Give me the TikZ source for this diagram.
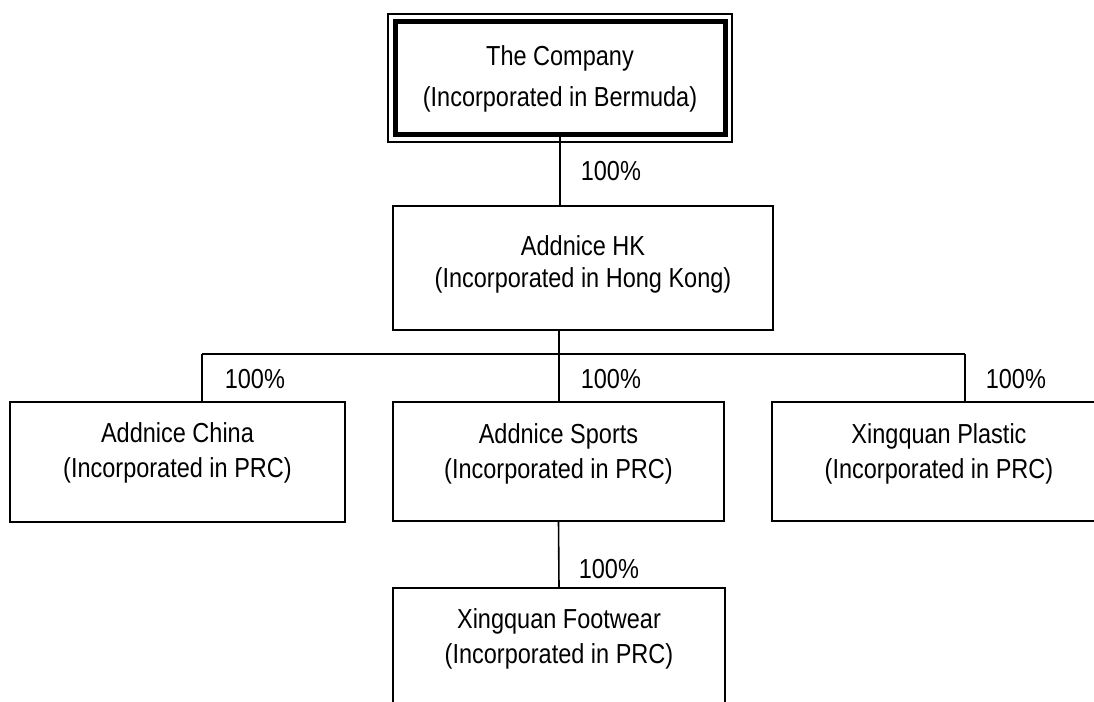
\documentclass[tikz,border=0pt]{standalone}
\usepackage{fontspec}
\usepackage{graphicx}
\setmainfont{Liberation Sans}
\usetikzlibrary{positioning}
\newcommand{\tallline}[1]{\scalebox{1}[1.17]{#1}}

\begin{document}
\begin{tikzpicture}[x=1pt, y=-1pt, line width=1.6pt,
  entity/.style={draw, minimum width=332pt, minimum height=120pt, inner sep=0pt, outer sep=0pt},
  caption/.style={align=center, inner sep=0pt, font=\fontsize{23.5}{35}\selectfont},
  pct/.style={anchor=base west, inner sep=0pt, font=\fontsize{23.5}{28}\selectfont}]
  \clip (0,0) rectangle (1094,701);
  \path (560,78) node[entity, line width=5pt, minimum width=330pt, minimum height=112pt] (company){}
    (583,268) node[entity, minimum width=380pt, minimum height=124pt] (hk){}
    (177.5,462) node[entity, minimum width=335pt] (china){}
    (558.5,461.5) node[entity, minimum width=331pt, minimum height=119pt] (sports){}
    (939,461.5) node[entity, minimum width=334pt, minimum height=119pt] (plastic){}
    (559,648) node[entity] (footwear){};
  % thin frame round the top box
  \draw[line width=1.5pt] ([shift={(-7,-8)}]company.north west) rectangle ([shift={(7,8)}]company.south east);

  \node[caption, below=23pt of company.north, font=\fontsize{23.5}{41}\selectfont] (companyText) {\tallline{The Company}\\\tallline{(Incorporated in Bermuda)}};
  \node[caption, below=29pt of hk.north, font=\fontsize{23.5}{32}\selectfont] (hkText) {\tallline{Addnice HK}\\\tallline{(Incorporated in Hong Kong)}};
  \node[caption, below=20pt of china.north] (chinaText) {\tallline{Addnice China}\\\tallline{(Incorporated in PRC)}};
  \node[caption, below=21pt of sports.north] (sportsText) {\tallline{Addnice Sports}\\\tallline{(Incorporated in PRC)}};
  \node[caption, below=21pt of plastic.north] (plasticText) {\tallline{Xingquan Plastic}\\\tallline{(Incorporated in PRC)}};
  \node[caption, below=20pt of footwear.north] (footwearText) {\tallline{Xingquan Footwear}\\\tallline{(Incorporated in PRC)}};

  \coordinate (busL) at (202,354);
  \coordinate (busM) at (559,354);
  \coordinate (busR) at (965,354);
  \draw (company.south) -- (company.south |- hk.north);
  \draw (busM |- hk.south) -- (busM);
  \draw (busL) -- (busR);
  \draw (busL) -- (busL |- china.north);
  \draw (busM) -- (busM |- sports.north);
  \draw (busR) -- (busR |- plastic.north);
  \draw (sports.south) -- (footwear.north);

  \node[pct] (pctHk) at (580,180) {\tallline{100\%}};
  \node[pct] (pctChina) at (224,388) {\tallline{100\%}};
  \node[pct] (pctSports) at (580,388) {\tallline{100\%}};
  \node[pct] (pctPlastic) at (985,388) {\tallline{100\%}};
  \node[pct] (pctFootwear) at (578,578) {\tallline{100\%}};
\end{tikzpicture}
\end{document}
